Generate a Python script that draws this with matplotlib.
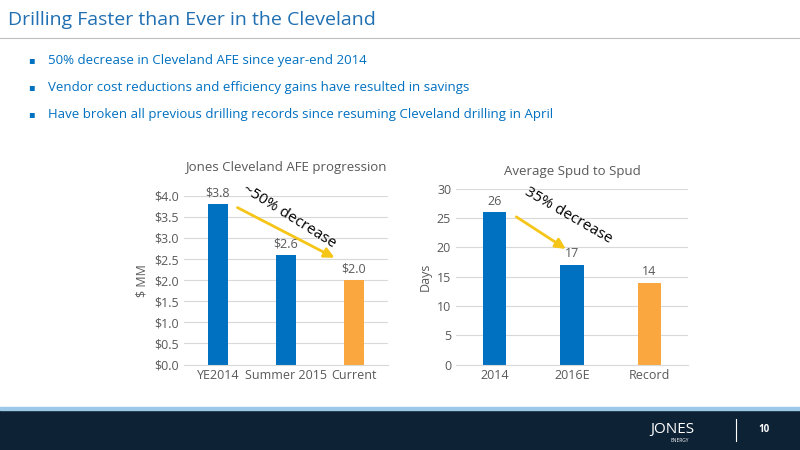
import numpy as np
import matplotlib.pyplot as plt
from matplotlib.patches import Rectangle, FancyArrowPatch

plt.rcParams['font.family'] = ['Open Sans', 'DejaVu Sans']

afe_cats = ['YE2014', 'Summer 2015', 'Current']
afe_vals = [3.8, 2.6, 2.0]
afe_labels = ['$3.8', '$2.6', '$2.0']
spud_cats = ['2014', '2016E', 'Record']
spud_vals = [26, 17, 14]
bullets = ['50% decrease in Cleveland AFE since year-end 2014',
           'Vendor cost reductions and efficiency gains have resulted in savings',
           'Have broken all previous drilling records since resuming Cleveland drilling in April']

blue = '#0070C0'
orange = '#F9A73E'
grey = '#595959'
cols = [blue, blue, orange]

fig = plt.figure(figsize=(8, 4.5), dpi=100)
fig.text(0.01, 0.955, 'Drilling Faster than Ever in the Cleveland', color='#1F6FB2', fontsize=14, va='center')
fig.add_artist(plt.Line2D([0, 1], [0.915, 0.915], color='#BFBFBF', lw=0.8))
for i, b in enumerate(bullets):
    y = 0.865 - i * 0.06
    fig.text(0.035, y, '\u25aa', color=blue, fontsize=7, va='center')
    fig.text(0.06, y, b, color=blue, fontsize=9.5, va='center')

# footer
fig.add_artist(Rectangle((0, 0), 1, 0.09, color='#0E2235', transform=fig.transFigure))
fig.add_artist(Rectangle((0, 0.09), 1, 0.006, color='#9DC9E8', transform=fig.transFigure))
fig.text(0.84, 0.045, 'JONES', color='white', fontsize=11, va='center', ha='center')
fig.text(0.85, 0.02, 'ENERGY', color='white', fontsize=3.5, va='center', ha='center')
fig.add_artist(plt.Line2D([0.92, 0.92], [0.02, 0.07], color='white', lw=0.8))
fig.text(0.955, 0.045, '10', color='white', fontsize=7, va='center', ha='center', weight='bold')

def style(ax):
    for s in ax.spines.values():
        s.set_visible(False)
    ax.spines['bottom'].set_visible(True)
    ax.spines['bottom'].set_color('#D9D9D9')
    ax.tick_params(length=0, colors=grey, labelsize=9)
    ax.yaxis.grid(True, color='#D9D9D9', lw=0.8)
    ax.set_axisbelow(True)

ax1 = fig.add_axes([0.23, 0.19, 0.255, 0.375])
x = np.arange(3)
ax1.bar(x, afe_vals, width=0.3, color=cols)
ax1.set_ylim(0, 4.0)
ax1.set_yticks(np.arange(0, 4.01, 0.5))
ax1.set_yticklabels(['$%.1f' % v for v in np.arange(0, 4.01, 0.5)])
ax1.set_xticks(x)
ax1.set_xticklabels(afe_cats)
ax1.set_xlim(-0.5, 2.5)
style(ax1)
for xi, v, l in zip(x, afe_vals, afe_labels):
    ax1.text(xi, v + 0.1, l, ha='center', va='bottom', color=grey, fontsize=9)
ax1.set_ylabel('$ MM', color=grey, fontsize=9)
ax1.set_title('Jones Cleveland AFE progression', color=grey, fontsize=9.5, pad=18)
ax1.add_patch(FancyArrowPatch((0.25, 3.75), (1.75, 2.5), arrowstyle='-|>', mutation_scale=15, color='#F5C518', lw=2))
ax1.text(1.05, 3.5, '~50% decrease', rotation=-32, ha='center', va='center', fontsize=11)

ax2 = fig.add_axes([0.57, 0.19, 0.29, 0.39])
ax2.bar(x, spud_vals, width=0.3, color=cols)
ax2.set_ylim(0, 30)
ax2.set_yticks(range(0, 31, 5))
ax2.set_xticks(x)
ax2.set_xticklabels(spud_cats)
ax2.set_xlim(-0.5, 2.5)
style(ax2)
for xi, v in zip(x, spud_vals):
    ax2.text(xi, v + 0.8, str(v), ha='center', va='bottom', color=grey, fontsize=9)
ax2.set_ylabel('Days', color=grey, fontsize=9)
ax2.set_title('Average Spud to Spud', color=grey, fontsize=9.5, pad=10)
ax2.add_patch(FancyArrowPatch((0.25, 25.5), (0.95, 19.5), arrowstyle='-|>', mutation_scale=15, color='#F5C518', lw=2))
ax2.text(0.95, 25.5, '35% decrease', rotation=-30, ha='center', va='center', fontsize=11)

fig.savefig('out.png', dpi=100)
